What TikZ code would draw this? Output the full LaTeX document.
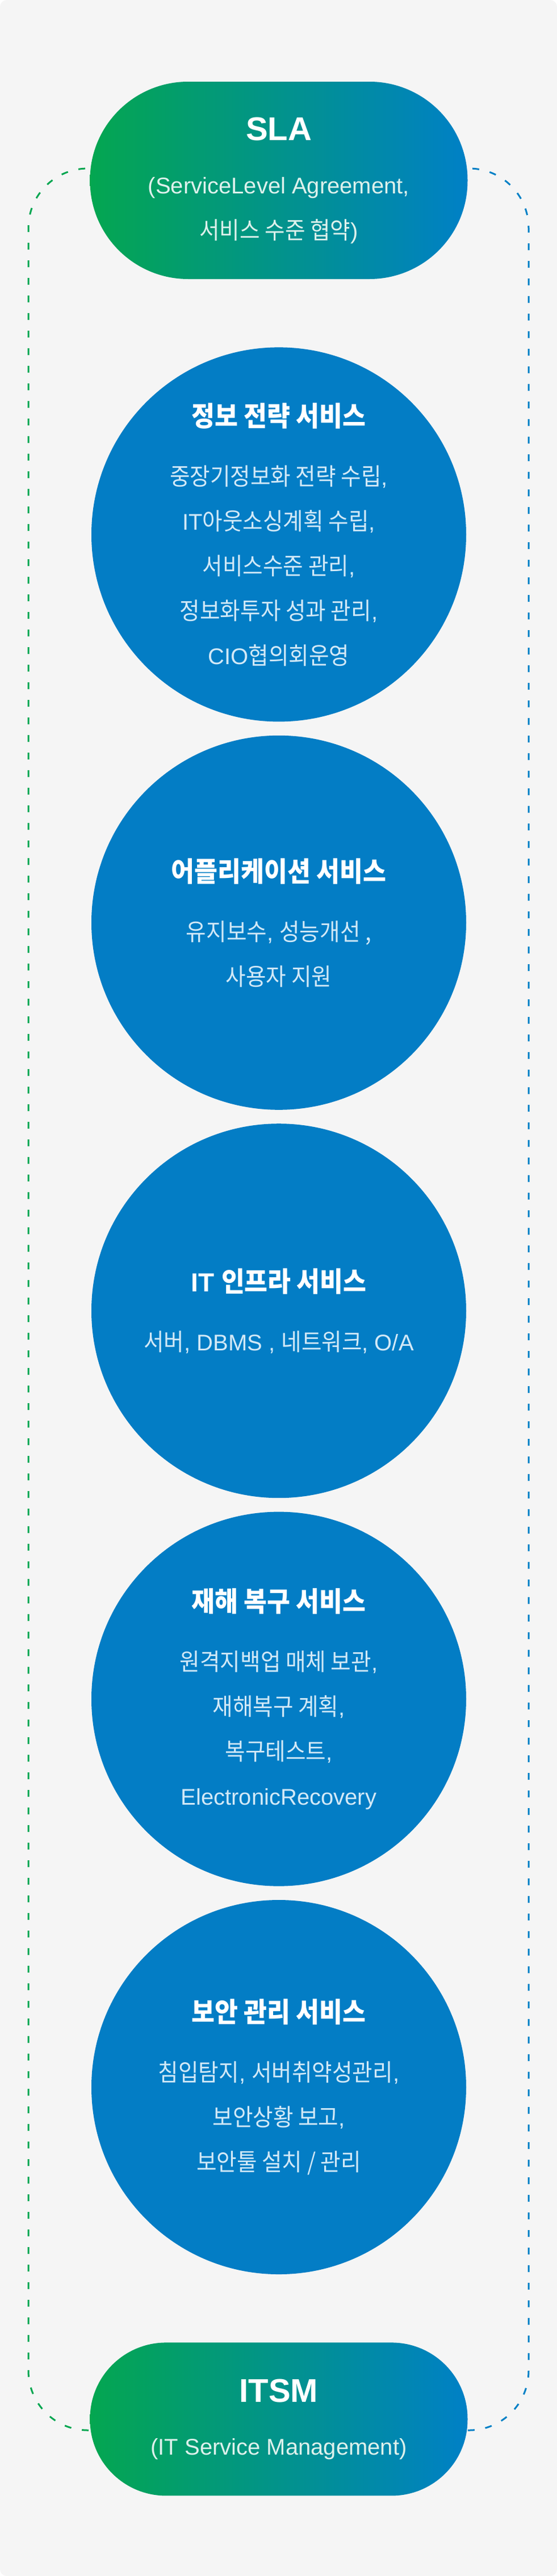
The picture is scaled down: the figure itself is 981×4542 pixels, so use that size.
\documentclass[tikz,border=0pt]{standalone}
\usepackage{fontspec}
\setmainfont{Liberation Sans}
\newfontfamily\krfont{Noto Sans CJK KR}[FakeStretch=0.92, Scale=1.05]
% Hangul syllables go to the Korean font, everything else stays in the main font
\newXeTeXintercharclass\krclass
\newcount\krcode
\krcode="AC00
\loop
  \XeTeXcharclass\krcode=\krclass
  \ifnum\krcode<"D7A3
  \advance\krcode by 1
\repeat
\XeTeXinterchartoks 0 \krclass = {\krfont}
\XeTeXinterchartoks 4095 \krclass = {\krfont}
\XeTeXinterchartoks \krclass 0 = {\rmfamily}
\XeTeXinterchartokenstate=1
\usetikzlibrary{positioning}
\definecolor{bgGray}{HTML}{F5F5F5}
\definecolor{capGreen}{HTML}{04A650}
\definecolor{capBlue}{HTML}{0080C6}
\definecolor{capText}{HTML}{DDF1EC}
\definecolor{svcBlue}{HTML}{037DC5}
\definecolor{svcText}{HTML}{D2E9F7}
\newcommand{\svctitle}[1]{{\fontsize{46}{60}\selectfont\bfseries\color{white}#1}}
\newcommand{\captitle}[1]{{\fontsize{58}{70}\selectfont\bfseries\color{white}#1}}

\begin{document}
\begin{tikzpicture}[
  x=1pt, y=-1pt,
  every node/.style={align=center, inner sep=0pt},
  capsule/.style={rectangle, left color=capGreen, right color=capBlue, minimum width=665pt,
    text=capText, font=\fontsize{40}{80}\selectfont},
  service/.style={circle, fill=svcBlue, minimum size=660pt, text=svcText,
    font=\fontsize{40}{79}\selectfont},
  frameLeft/.style={draw=capGreen, line width=3pt, dash pattern=on 12pt off 19pt, rounded corners=105pt},
  frameRight/.style={draw=capBlue, line width=3pt, dash pattern=on 12pt off 19pt, rounded corners=105pt}
  ]
  \fill[white] (0,0) rectangle (981,4542);
  \fill[bgGray, rounded corners=12pt] (0,0) rectangle (981,4542);
  \draw[frameLeft] (491,297) -- (50,297) -- (50,4285) -- (491,4285);
  \draw[frameRight] (491,297) -- (931,297) -- (931,4285) -- (491,4285);

  \node[capsule, minimum height=348pt, rounded corners=173pt] (sla) at (491,318)
    {\captitle{SLA}\\[14pt] (ServiceLevel Agreement,\\ 서비스 수준 협약)};
  \node[service, below=120pt of sla] (info)
    {\svctitle{정보 전략 서비스}\\[25pt] 중장기정보화 전략 수립,\\ IT아웃소싱계획 수립,\\ 서비스수준 관리,\\ 정보화투자 성과 관리,\\ CIO협의회운영};
  \node[service, below=24pt of info] (app)
    {\svctitle{어플리케이션 서비스}\\[25pt] 유지보수, 성능개선 ,\\ 사용자 지원};
  \node[service, below=24pt of app] (infra)
    {\svctitle{IT 인프라 서비스}\\[25pt] 서버, DBMS , 네트워크, O/A};
  \node[service, below=24pt of infra] (dr)
    {\svctitle{재해 복구 서비스}\\[25pt] 원격지백업 매체 보관,\\ 재해복구 계획,\\ 복구테스트,\\ ElectronicRecovery};
  \node[service, below=24pt of dr] (sec)
    {\svctitle{보안 관리 서비스}\\[25pt] 침입탐지, 서버취약성관리,\\ 보안상황 보고,\\ 보안툴 설치 / 관리};
  \node[capsule, minimum height=270pt, rounded corners=134pt, below=120pt of sec] (itsm)
    {\captitle{ITSM}\\[13pt] (IT Service Management)};
\end{tikzpicture}
\end{document}
